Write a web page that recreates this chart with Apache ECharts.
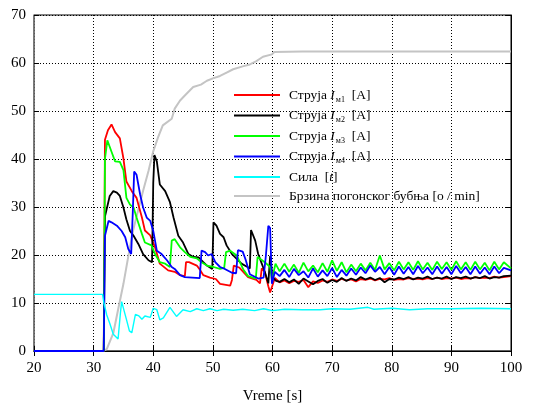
<!DOCTYPE html>
<html>
<head>
    <meta charset="utf-8">
    <title>Vreme</title>
    <script src="https://cdn.jsdelivr.net/npm/echarts@6/dist/echarts.min.js"></script>
    <style>
        body { margin: 0; background: #fff; }
    </style>
</head>
<body>
    <div id="main" style="width: 536px; height: 409px;"></div>
    <script>
        // x ticks and y ticks
        var xTicks = [20, 30, 40, 50, 60, 70, 80, 90, 100]
        var yTicks = [0, 10, 20, 30, 40, 50, 60, 70]

        // series names (legend order)
        var names = ['I1', 'I2', 'I3', 'I4', 'F', 'n']

        // transient part, [t, value]
        var redStart = [[20,0],[31.7,0],[31.9,44],[32.4,46],[33,47.2],[33.6,45.6],[34.4,44.3],[35,40.1],[35.5,35.3],[36.4,33.3],[37.2,31.9],[38.1,27.8],[38.6,25.1],[39.5,24.1],[40.3,21.6],[41.1,18.2],[42.5,16.8],[43.6,16.5],[44.5,15.8],[45.3,15.6],[45.5,18.5],[46,18.5],[47.3,17.8],[47.8,17],[48.4,15.8],[49.5,15.3],[50.5,15],[51.2,14],[52.9,13.6],[53.2,14.8],[53.5,17.8],[54.4,17.4],[55.9,15.4],[57.3,14.8],[57.9,14.1],[58.2,17.2],[58.7,16.5],[59.3,13.5],[59.6,12.2],[59.9,11.8],[60.4,15.2]]
        var blackStart = [[20,0],[31.7,0],[31.9,28],[32.7,32.3],[33.3,33.3],[33.9,33],[34.4,32.3],[35,29.9],[35.5,27.4],[36.1,25],[36.7,24],[37.5,22.3],[38.3,20.2],[39.2,18.9],[39.8,18.5],[40,35],[40.2,40.8],[40.6,39.5],[41.1,34.7],[42,33.3],[42.8,31],[43.4,27.8],[44.2,24],[45,22.6],[45.9,20.2],[46.7,19.6],[47.6,19.5],[48.4,18.5],[49,17.8],[49.9,17.1],[50.1,26.8],[50.6,26.1],[51.2,24.4],[51.8,23.7],[52.3,22],[53.2,20.2],[54,19.2],[54.8,18.2],[55.8,17.5],[56.2,17.2],[56.4,25.2],[56.7,25],[57.1,23],[57.6,20.2],[58.2,18.2],[58.7,16.5],[59.3,14.1],[59.6,19.8],[60,15.4],[60.6,14.6]]
        var greenStart = [[20,0],[31.7,0],[31.9,40],[32.3,43.9],[33,41.5],[33.6,39.5],[34.4,39.4],[35,37.7],[35.5,31.9],[36.1,30.5],[36.7,29.9],[37.2,27.8],[38.1,24.4],[38.6,22.6],[39.7,22],[40.3,20.2],[41.1,18.5],[42,18.2],[42.8,17.5],[43.1,23],[43.6,23.3],[44.5,21.6],[45.3,20.6],[46.2,19.6],[47.3,19.3],[48.1,18.5],[49,17.8],[50.1,17.5],[51.2,17.1],[51.9,17.3],[52.2,20.6],[52.9,20.9],[54,19.9],[55.1,17],[55.9,15.6],[57.2,15.1],[57.5,19.6],[58.7,18.5],[59.6,17.5],[59.9,14.8],[60.5,18.2]]
        var blueStart = [[20,0],[31.7,0],[31.9,24],[32.5,27.1],[33,26.8],[33.9,26.1],[34.7,25],[35.3,23.7],[35.8,21.3],[36.3,20.2],[36.6,30],[36.8,37.4],[37.2,36.7],[37.8,32.6],[38.3,29.9],[38.9,27.8],[39.5,27.1],[40,25],[40.6,20.9],[41.4,20.2],[42.3,18.9],[43.1,17.5],[43.6,17.1],[44.5,15.8],[45.3,15.4],[47.8,15.2],[48.1,20.9],[48.7,20.6],[49.2,19.9],[49.8,20.2],[50.4,18.5],[51.2,17.5],[52,17.1],[53.2,16.3],[53.9,16.2],[54.2,21],[55,20.7],[55.5,19],[56.2,16],[57.6,15.1],[58.5,15.3],[58.9,20],[59.3,26.1],[59.6,25.6],[59.9,14],[60.4,16.5]]

        // steady part, shared time
        var tSteady = [61.2, 62.0, 62.8, 63.6, 64.4, 65.2, 66.0, 66.8, 67.6, 68.4,
            69.2, 70.0, 70.8, 71.6, 72.4, 73.2, 74.0, 74.8, 75.6, 76.4,
            77.2, 78.0, 78.8, 79.6, 80.4, 81.2, 82.0, 82.8, 83.6, 84.4,
            85.2, 86.0, 86.8, 87.6, 88.4, 89.2, 90.0, 90.8, 91.6, 92.4,
            93.2, 94.0, 94.8, 95.6, 96.4, 97.2, 98.0, 98.8, 100.0]
        var redSteady = [14.3, 14.7, 14.1, 14.6, 14.4, 14.8, 13.3, 14.5, 14.2, 14.7,
            14.4, 14.9, 14.6, 15.0, 14.7, 14.9, 14.5, 15.0, 14.8, 15.1,
            14.7, 15.0, 14.9, 15.2, 14.8, 15.0, 14.9, 15.2, 15.0, 15.1,
            14.9, 15.2, 15.0, 15.3, 15.0, 15.2, 15.1, 15.3, 15.0, 15.2,
            15.1, 15.4, 15.2, 15.3, 15.2, 15.5, 15.3, 15.4, 15.6]
        var blackSteady = [14.4, 15.0, 14.3, 14.9, 14.0, 15.1, 14.5, 13.9, 14.6, 15.0,
            14.2, 14.8, 14.4, 15.2, 14.6, 15.1, 14.7, 15.4, 14.9, 15.3,
            14.8, 15.2, 14.3, 15.0, 14.9, 15.3, 15.0, 15.4, 14.9, 15.3,
            15.1, 15.5, 15.0, 15.3, 15.1, 15.5, 15.0, 15.4, 15.2, 15.5,
            15.1, 15.4, 15.2, 15.6, 15.1, 15.4, 15.3, 15.6, 15.7]
        var greenSteady = [16.6, 18.2, 16.5, 18.0, 16.3, 18.4, 16.6, 17.8, 16.4, 18.3,
            16.5, 18.9, 16.7, 18.5, 16.4, 18.0, 16.6, 18.2, 16.8, 18.4,
            16.9, 19.9, 17.0, 18.3, 16.8, 18.6, 17.0, 18.5, 16.9, 18.7,
            17.0, 18.4, 16.9, 18.6, 17.1, 18.5, 16.9, 18.7, 17.0, 18.5,
            16.9, 18.6, 17.0, 18.4, 16.8, 18.6, 17.0, 18.5, 17.2]
        var blueSteady = [15.6, 16.9, 15.4, 17.1, 15.8, 16.6, 15.3, 17.2, 15.5, 16.8,
            15.6, 17.3, 15.4, 16.9, 15.7, 17.2, 15.9, 17.4, 16.2, 17.8,
            16.5, 17.5, 16.0, 17.5, 15.9, 17.6, 16.1, 17.5, 16.0, 17.7,
            16.2, 17.4, 16.0, 17.6, 16.1, 17.5, 16.0, 17.7, 16.2, 17.5,
            16.0, 17.6, 16.1, 17.4, 16.0, 17.6, 16.2, 17.3, 16.8]

        // sila [t]
        var force = [[20,11.8],[31.5,11.8],[31.7,10.2],[32.2,7.5],[32.7,5.8],[33.3,3.5],[34.1,2.5],[34.5,8],[34.7,10.3],[35.5,6.6],[36,4.2],[36.4,3.8],[37,7.6],[37.6,7.3],[38.1,6.6],[38.6,7.3],[39.5,7],[40,8.9],[40.6,8.6],[41.1,6.5],[41.7,6.9],[42.8,9.1],[43.9,7.2],[45,8.6],[46.2,8.2],[47.3,8.8],[48.4,8.4],[49.5,8.8],[50.7,8.4],[51.8,8.7],[53.4,8.5],[55,8.7],[57,8.4],[58.5,8.8],[60,8.4],[62,8.7],[65,8.6],[68,8.6],[70,8.8],[73,8.7],[76,9.1],[77,8.7],[80,8.9],[83,8.6],[86,8.8],[90,8.8],[95,8.9],[100,8.8]]

        // brzina bubnja [o/min]
        var speed = [[20,0],[31.5,0],[32.2,0.4],[33.3,3.7],[34.1,8.6],[35,14],[35.8,19.6],[36.6,25],[37.4,29],[38.3,33.4],[39.2,37.5],[40,41.6],[40.8,44.5],[41.6,47],[43.1,48.4],[43.6,50.5],[44.5,52.2],[45.5,53.5],[46.7,55],[48,55.5],[49,56.3],[50,56.8],[51.2,57.3],[52.3,58],[53.4,58.7],[55,59.3],[56.2,59.7],[57.3,60.4],[58.4,61.3],[59.9,61.8],[60.3,62.3],[65,62.4],[100,62.4]]

        var join = function(start, values) {
            var out = start.slice()
            for (var i = 0; i < tSteady.length; i++) {
                out.push([tSteady[i], values[i]])
            }
            return out
        }

        var serif = 'Liberation Serif'
        var labels = {
            I1: '{p|Струја }{i|I}{s|м1}{a|  [A]}',
            I2: '{p|Струја }{i|I}{s|м2}{a|  [A]}',
            I3: '{p|Струја }{i|I}{s|м3}{a|  [A]}',
            I4: '{p|Струја }{i|I}{s|м4}{a|  [A]}',
            F: '{p|Сила  [}{i|t}{a|]}',
            n: '{p|Брзина погонског бубња [o / min]}'
        }

        var line = function(name, data, color, width, z) {
            return {
                name: name,
                type: 'line',
                data: data,
                xAxisIndex: 0,
                yAxisIndex: 0,
                showSymbol: false,
                symbol: 'none',
                animation: false,
                z: z,
                lineStyle: { color: color, width: width },
                itemStyle: { color: color }
            }
        }

        var element = document.querySelector('#main')
        var myChart = echarts.init(element)
        var option = {
            animation: false,
            grid: {
                left: 34, right: 25, top: 15, bottom: 54,
                show: true, borderColor: '#000', borderWidth: 1
            },
            legend: {
                data: names,
                orient: 'vertical',
                left: 229, top: 83,
                itemWidth: 46, itemHeight: 2,
                itemGap: 5,
                icon: 'rect',
                formatter: function(name) { return labels[name] },
                textStyle: {
                    rich: {
                        p: { fontFamily: serif, fontSize: 13.5, color: '#000', padding: [0, 0, 0, 4] },
                        a: { fontFamily: serif, fontSize: 13.5, color: '#000' },
                        i: { fontFamily: serif, fontSize: 13.5, color: '#000', fontStyle: 'italic' },
                        s: { fontFamily: serif, fontSize: 8, color: '#000', padding: [9, 0, 0, 1] }
                    }
                }
            },
            xAxis: [{
                type: 'value', min: 20, max: 100, interval: 10,
                name: 'Vreme [s]', nameLocation: 'middle', nameGap: 38,
                nameTextStyle: { fontFamily: serif, fontSize: 15, color: '#000' },
                axisLine: { lineStyle: { color: '#555', width: 1.5 } },
                axisTick: { inside: true, length: 5, lineStyle: { color: '#000' } },
                axisLabel: { fontFamily: serif, fontSize: 15, color: '#000', margin: 10 },
                splitLine: { show: true, lineStyle: { color: '#000', type: [1, 2], width: 1 } }
            }, {
                type: 'value', min: 20, max: 100, interval: 10, position: 'top',
                axisLine: { lineStyle: { color: '#000', width: 1 } },
                axisTick: { inside: true, length: 5, lineStyle: { color: '#000' } },
                axisLabel: { show: false },
                splitLine: { show: false }
            }],
            yAxis: [{
                type: 'value', min: 0, max: 70, interval: 10,
                axisLine: { show: true, lineStyle: { color: '#777', width: 1.5 } },
                axisTick: { show: true, inside: true, length: 5, lineStyle: { color: '#000' } },
                axisLabel: { fontFamily: serif, fontSize: 15, color: '#000', margin: 8 },
                splitLine: { show: true, lineStyle: { color: '#000', type: [1, 2], width: 1 } }
            }, {
                type: 'value', min: 0, max: 70, interval: 10, position: 'right',
                axisLine: { show: true, lineStyle: { color: '#000', width: 1 } },
                axisTick: { show: true, inside: true, length: 5, lineStyle: { color: '#000' } },
                axisLabel: { show: false },
                splitLine: { show: false }
            }],
            series: [
                line('I1', join(redStart, redSteady), '#ff0000', 1.8, 3),
                line('I2', join(blackStart, blackSteady), '#000000', 1.8, 3),
                line('I3', join(greenStart, greenSteady), '#00ff00', 1.8, 3),
                line('I4', join(blueStart, blueSteady), '#0000ff', 1.8, 3),
                line('F', force, '#00ffff', 1.4, 3),
                line('n', speed, '#c4c4c4', 2, 2)
            ]
        }
        myChart.setOption(option)
    </script>
</body>
</html>
